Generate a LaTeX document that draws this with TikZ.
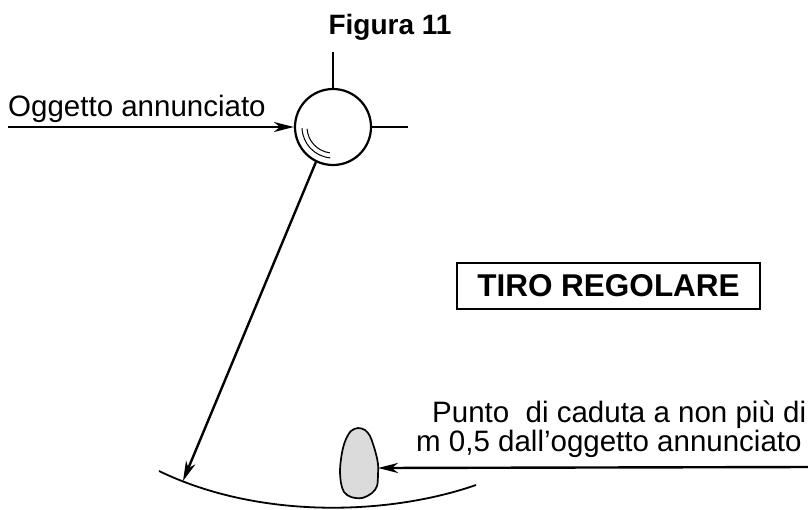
\documentclass[tikz,border=0pt]{standalone}
\usepackage{fontspec}
\setmainfont{Liberation Sans}
\usetikzlibrary{arrows.meta}
\begin{document}
\begin{tikzpicture}[x=1pt,y=-1pt,
  lbl/.style={inner sep=0pt,font=\fontsize{29.5}{34}\selectfont},
  arr/.style={line width=2.4pt,-{Stealth[length=20pt,width=10pt,inset=6pt]}},
  thin/.style={line width=1.6pt}]
\useasboundingbox (0,0) rectangle (808,509);
% title
\node[inner sep=0pt,anchor=base,font=\fontsize{28}{33}\selectfont\bfseries] (title) at (390,34) {Figura 11};
% circle
\node[circle,draw,line width=2.2pt,minimum size=76pt,inner sep=0pt] (c) at (333,127) {};
\coordinate (ctop) at (333,52);
\coordinate (cright) at (408,127);
\draw[thin] (c.north) -- (ctop);
\draw[thin] (c.east) -- (cright);
\draw[line width=1pt] (c.center) ++(178:31) arc[start angle=178,end angle=95,radius=31];
\draw[line width=1pt] (c.center) ++(176:26) arc[start angle=176,end angle=97,radius=26];
% left label and arrow
\node[lbl,anchor=base west] (obj) at (8,116) {Oggetto annunciato};
\coordinate (a0) at (8,127);
\draw[arr] (a0) -- (c.west);
% long arrow to landing arc
\coordinate (hit) at (183,481);
\draw[arr] (c.244) -- (hit);
\coordinate (arcL) at (159,471);
\coordinate (arcR) at (476,485);
\draw[line width=1.8pt] (arcL) .. controls (260,520) and (390,515) .. (arcR);
% box
\node[draw,line width=2.4pt,minimum width=303pt,minimum height=46pt,inner sep=0pt,
  font=\fontsize{31.5}{36}\selectfont\bfseries] (tiro) at (608.5,286) {TIRO REGOLARE};
% blob
\draw[line width=1.7pt,fill=black!14] plot[smooth cycle,tension=0.55] coordinates {
 (358,428) (365,430) (370,436) (373,444) (376,454) (378,464) (378,475) (377,486)
 (372,493) (362,498) (351,497) (344,492) (341,483) (340,471) (341,459) (343,448)
 (346,439) (351,431)};
\coordinate (bt) at (378,468);
\coordinate (b0) at (808,467);
\draw[arr] (b0) -- (bt);
% right text
\node[lbl,anchor=base west] (p1) at (432,422) {Punto\ \ di caduta a non più di};
\node[lbl,anchor=base west] (p2) at (416,451) {m 0,5 dall’oggetto annunciato};
\end{tikzpicture}
\end{document}
